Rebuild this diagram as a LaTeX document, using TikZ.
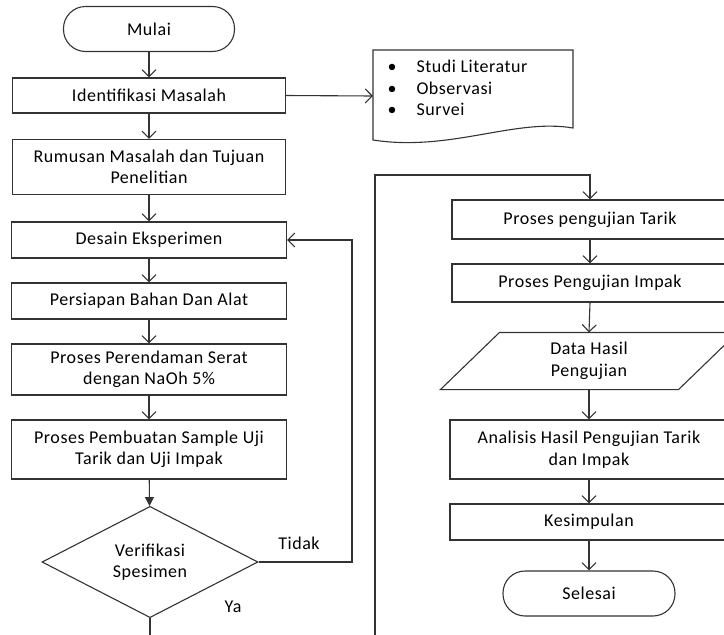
\documentclass[tikz,border=0pt]{standalone}
\usepackage{fontspec}
\setmainfont{Carlito}[LetterSpace=3]
\usetikzlibrary{arrows.meta,shapes.geometric}

\begin{document}
\begin{tikzpicture}[x=1pt,y=-1pt,line width=1.1pt,
	font=\fontsize{18}{21.5}\selectfont,
	proc/.style={draw=black!80,rectangle,align=center,minimum width=275pt,minimum height=36pt,inner sep=2pt},
	term/.style={draw=black!80,rectangle,rounded corners=22pt,minimum width=171pt,minimum height=45pt},
	decide/.style={draw=black!80,diamond,align=center,minimum width=216pt,minimum height=103pt,inner sep=0pt},
	flow/.style={draw=black!80,-{Straight Barb[length=7pt,width=14pt]}},
	flowfill/.style={draw=black!80,-{Triangle[length=9pt,width=9pt]}}]
	\useasboundingbox (0,0) rectangle (724,635);
	\clip (0,0) rectangle (724,635);
	
	\node[term] (mulai) at (149,29) {Mulai};
	\node[proc,minimum width=273pt,minimum height=35pt] (ident) at (149,95.5) {Identifikasi Masalah};
	\node[proc,minimum width=273pt,minimum height=55pt] (rumusan) at (149,167) {Rumusan Masalah dan Tujuan\\Penelitian};
	\node[proc] (desain) at (149,240) {Desain Eksperimen};
	\node[proc] (persiapan) at (149,301) {Persiapan Bahan Dan Alat};
	\node[proc,minimum height=51pt] (rendam) at (149,369.5) {Proses Perendaman Serat\\dengan NaOh 5\%};
	\node[proc,minimum height=59pt] (pembuatan) at (149,449.5) {Proses Pembuatan Sample Uji\\Tarik dan Uji Impak};
	\node[decide] (verif) at (150,562) {Verifikasi\\Spesimen};
	\node (tidak) at (299,543) {Tidak};
	\node (ya) at (233,607) {Ya};
	
	\node[anchor=north west,align=left,inner sep=0pt] (lit) at (387,57)
	{\begin{tabular}{@{}l@{\hspace{20pt}}l@{}}
		\textbullet & Studi Literatur\\
		\textbullet & Observasi\\
		\textbullet & Survei
	\end{tabular}};
	\draw[black!80] (373,50) -- (573,50) -- (573,128) .. controls (515,118) and (450,152) .. (373,140) -- cycle;
	\coordinate (litw) at (373,96);
	
	\node[proc,minimum width=276pt,minimum height=39pt] (tarik) at (590,219.5) {Proses pengujian Tarik};
	\node[proc,minimum width=276pt,minimum height=38pt] (impak) at (590,283) {Proses Pengujian Impak};
	\node[align=center,minimum width=178pt,minimum height=56pt,inner sep=0pt] (data) at (589,361) {Data Hasil\\Pengujian};
	\draw[black!80] (data.north west) -- ([xshift=59pt]data.north east) -- (data.south east) -- ([xshift=-59pt]data.south west) -- cycle;
	\node[proc,minimum width=278pt,minimum height=59pt] (analisis) at (589,449.5) {Analisis Hasil Pengujian Tarik\\dan Impak};
	\node[proc,minimum width=278pt] (kesimpulan) at (589,522) {Kesimpulan};
	\node[term,minimum width=172pt] (selesai) at (589,593.5) {Selesai};
	
	\draw[flow] (mulai) -- (ident);
	\draw[flow] (ident) -- (rumusan);
	\draw[flow] (ident.east) -- (litw);
	\draw[flow] (rumusan) -- (desain);
	\draw[flow] (desain) -- (persiapan);
	\draw[flow] (persiapan) -- (rendam);
	\draw[flow] (rendam) -- (pembuatan);
	\draw[flowfill] (pembuatan) -- (verif);
	
	\coordinate (back) at (352,562);
	\draw[flow] (verif.east) -- (back) |- (desain.east);
	
	\coordinate (offA) at (150,640);
	\coordinate (offB) at (375,640);
	\coordinate (topB) at (375,175);
	\draw[black!80] (verif.south) -- (offA);
	\draw[flow] (offB) -- (topB) -| (tarik.north);
	
	\draw[flow] (tarik) -- (impak);
	\draw[flow] (impak.south) -- (data.north);
	\draw[flow] (data.south) -- (analisis.north);
	\draw[flow] (analisis) -- (kesimpulan);
	\draw[flow] (kesimpulan) -- (selesai);
\end{tikzpicture}
\end{document}
